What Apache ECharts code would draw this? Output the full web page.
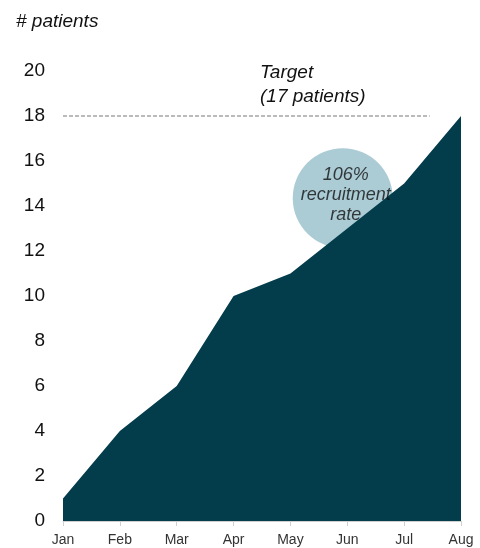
<!DOCTYPE html>
<html>
<head>
<meta charset="utf-8">
<script src="https://cdn.jsdelivr.net/npm/echarts@6/dist/echarts.min.js"></script>
<style>
  html, body { margin: 0; padding: 0; background: #fff; }
  #chart { width: 480px; height: 548px; }
</style>
</head>
<body>
<div id="chart"></div>
<script>
const months = ['Jan', 'Feb', 'Mar', 'Apr', 'May', 'Jun', 'Jul', 'Aug']
const patients = [1, 4, 6, 10, 11, 13, 15, 18]
const yTicks = [0, 2, 4, 6, 8, 10, 12, 14, 16, 18, 20]
// target line, on a hidden value axis (0 = Jan, 7 = Aug)
const targetLine = [[0, 18], [6.45, 18]]
const bubble = [[4.92, 14.35]]
const bubbleText = '106%\nrecruitment\nrate'

const chart = echarts.init(document.getElementById('chart'))
const font = 'Liberation Sans, Arial, sans-serif'

chart.setOption({
  animation: false,
  grid: { left: 63, right: 19, top: 71, bottom: 27 },
  xAxis: [{
    type: 'category',
    data: months,
    boundaryGap: false,
    axisLine: { lineStyle: { color: '#d0d0d0', width: 1 } },
    axisTick: { show: true, length: 5, lineStyle: { color: '#d0d0d0' } },
    axisLabel: { color: '#333', fontSize: 14, fontFamily: font, margin: 12 }
  }, {
    type: 'value', min: 0, max: 7, show: false
  }],
  yAxis: {
    type: 'value',
    min: yTicks[0],
    max: yTicks[yTicks.length - 1],
    interval: 2,
    axisLine: { show: false },
    axisTick: { show: false },
    splitLine: { show: false },
    axisLabel: { color: '#111', fontSize: 19, fontFamily: font, margin: 18 }
  },
  graphic: [
    { type: 'text', left: 16, top: 12, style: { text: '# patients', fontSize: 19, fontStyle: 'italic', fontFamily: font, fill: '#111' } },
    { type: 'text', left: 260, top: 61, style: { text: 'Target\n(17 patients)', fontSize: 19, lineHeight: 24, fontStyle: 'italic', fontFamily: font, fill: '#111' } }
  ],
  series: [{
    type: 'scatter',
    xAxisIndex: 1,
    data: bubble,
    symbolSize: 100,
    itemStyle: { color: '#abcbd5', opacity: 1 },
    z: 1,
    silent: true
  }, {
    type: 'line',
    data: patients,
    symbol: 'none',
    lineStyle: { width: 0 },
    areaStyle: { color: '#033c4b', opacity: 1 },
    z: 2
  }, {
    type: 'line',
    xAxisIndex: 1,
    data: targetLine,
    symbol: 'none',
    lineStyle: { color: '#777', width: 1, type: [4, 2] },
    z: 3
  }, {
    type: 'scatter',
    xAxisIndex: 1,
    data: bubble,
    symbolSize: 1,
    itemStyle: { color: 'transparent' },
    label: {
      show: true,
      position: 'inside',
      offset: [3, -3],
      formatter: bubbleText,
      color: '#111',
      textBorderWidth: 0,
      fontSize: 18,
      lineHeight: 20,
      fontStyle: 'italic',
      fontFamily: font
    },
    z: 4
  }]
})
</script>
</body>
</html>
